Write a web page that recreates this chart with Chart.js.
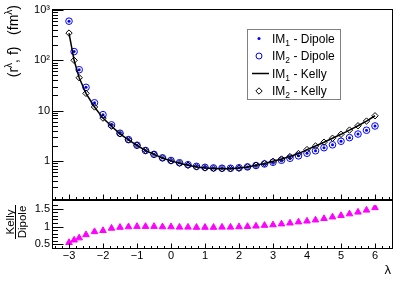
<!DOCTYPE html>
<html>
<head>
<meta charset="utf-8">
<script src="https://cdn.jsdelivr.net/npm/chart.js@4/dist/chart.umd.min.js"></script>
<style>
  body { margin: 0; background: #fff; width: 413px; height: 286px; overflow: hidden; position: relative; }
  canvas { position: absolute; left: 0; }
  #top { top: 0; }
  #bottom { top: 200px; }
</style>
</head>
<body>
<canvas id="top" width="413" height="200"></canvas>
<canvas id="bottom" width="413" height="86"></canvas>
<script>
// data
const lambda = [-3, -2.85, -2.7, -2.5, -2.25, -2, -1.75, -1.5, -1.25, -1, -0.75, -0.5, -0.25, 0, 0.25, 0.5, 0.75, 1, 1.25, 1.5, 1.75, 2, 2.25, 2.5, 2.75, 3, 3.25, 3.5, 3.75, 4, 4.25, 4.5, 4.75, 5, 5.25, 5.5, 5.75, 6];
// IM1 and IM2 dipole points sit on top of each other
const dipole = [600, 149, 65, 29, 14.3, 8.3, 5.2, 3.55, 2.65, 2.05, 1.61, 1.35, 1.15, 1.02, 0.92, 0.84, 0.78, 0.745, 0.725, 0.715, 0.715, 0.73, 0.76, 0.81, 0.87, 0.94, 1.03, 1.13, 1.26, 1.42, 1.59, 1.83, 2.09, 2.46, 2.9, 3.42, 4.07, 4.95];
// same for the Kelly line and diamonds
const kelly = [348, 100, 45, 22, 11.8, 7.1, 4.9, 3.45, 2.62, 2.04, 1.61, 1.35, 1.14, 1.0, 0.9, 0.82, 0.76, 0.725, 0.71, 0.70, 0.70, 0.72, 0.76, 0.82, 0.89, 0.98, 1.09, 1.22, 1.40, 1.68, 1.98, 2.35, 2.82, 3.38, 4.1, 5.0, 6.2, 7.9];
const ratio = [0.55, 0.62, 0.68, 0.77, 0.855, 0.885, 0.95, 0.975, 0.99, 1.0, 1.0, 1.0, 0.99, 0.99, 0.98, 0.98, 0.975, 0.975, 0.975, 0.98, 0.98, 0.99, 1.0, 1.01, 1.03, 1.045, 1.07, 1.095, 1.125, 1.15, 1.18, 1.22, 1.265, 1.305, 1.35, 1.40, 1.455, 1.525];

const xTicks = [-3, -2, -1, 0, 1, 2, 3, 4, 5, 6];
const yTicksTop = [1, 10, 100, 1000];
const yLabelsTop = ['1', '10', '10\u00b2', '10\u00b3'];
const yTicksBottom = [0.5, 1, 1.5];

const FONT = '"Liberation Sans", Arial, Helvetica, sans-serif';
Chart.defaults.font.family = FONT;
Chart.defaults.color = '#000';

const pts = ys => lambda.map((x, i) => ({x: x, y: ys[i]}));

function richText(ctx, parts, x, y, angle, align) {
  ctx.save();
  ctx.translate(x, y);
  ctx.rotate(angle);
  ctx.textBaseline = 'alphabetic';
  ctx.fillStyle = '#000';
  let total = 0;
  const w = parts.map(p => { ctx.font = p[1] + 'px ' + FONT; const m = ctx.measureText(p[0]).width; total += m; return m; });
  let u = align === 'right' ? -total : align === 'center' ? -total / 2 : 0;
  parts.forEach((p, i) => {
    ctx.font = p[1] + 'px ' + FONT;
    ctx.fillText(p[0], u, p[2]);
    u += w[i];
  });
  ctx.restore();
}

// ROOT-like frame with ticks pointing inwards
function drawFrame(chart, opt) {
  const {ctx, chartArea: a, scales} = chart;
  const L = Math.round(a.left) + 0.5, R = Math.round(a.right) + 0.5;
  const T = opt.topY, B = opt.bottomY;
  ctx.save();
  ctx.strokeStyle = '#000';
  ctx.lineWidth = 1;
  ctx.strokeRect(L, T, R - L, B - T);
  ctx.beginPath();
  for (let i = -17; i <= 32; i++) {
    const px = Math.round(scales.x.getPixelForValue(i / 5)) + 0.5;
    const len = i % 5 === 0 ? 5 : 2.5;
    ctx.moveTo(px, B); ctx.lineTo(px, B - len);
  }
  opt.yTicks.forEach(t => {
    const py = Math.round(scales.y.getPixelForValue(t.v)) + 0.5;
    if (py < T || py > B) return;
    ctx.moveTo(L, py); ctx.lineTo(L + (t.major ? 11 : 5.5), py);
  });
  ctx.stroke();
  ctx.restore();
}

function logTicks() {
  const out = [];
  [0.1, 1, 10, 100, 1000].forEach(d => {
    for (let k = 1; k <= 9; k++) {
      const v = k * d;
      if (v >= 0.21 && v <= 1000) out.push({v: v, major: k === 1});
    }
  });
  return out;
}
function linTicks() {
  const out = [];
  for (let i = 4; i <= 16; i++) out.push({v: i / 10, major: i % 5 === 0});
  return out;
}

const topDecor = {
  id: 'topDecor',
  afterDatasetsDraw(chart) {
    const ctx = chart.ctx;
    drawFrame(chart, {topY: 9.5, bottomY: 199.5, yTicks: logTicks()});
    // legend
    ctx.save();
    ctx.fillStyle = '#fff';
    ctx.fillRect(247.5, 29.5, 93, 70);
    ctx.strokeStyle = '#808080';
    ctx.lineWidth = 1;
    ctx.strokeRect(247.5, 29.5, 93, 70);
    const mx = 259, rows = [38.5, 56, 73.5, 91];
    ctx.fillStyle = '#0000ff'; ctx.strokeStyle = '#0000ff';
    Chart.helpers.drawPoint(ctx, {pointStyle: 'circle', radius: 1.5, borderWidth: 0, rotation: 0}, mx, rows[0]);
    ctx.fillStyle = 'rgba(0,0,0,0)'; ctx.lineWidth = 1;
    Chart.helpers.drawPoint(ctx, {pointStyle: 'circle', radius: 3, borderWidth: 1, rotation: 0}, mx, rows[1]);
    ctx.strokeStyle = '#000'; ctx.lineWidth = 1.5;
    ctx.beginPath(); ctx.moveTo(252, rows[2]); ctx.lineTo(269, rows[2]); ctx.stroke();
    ctx.lineWidth = 1;
    Chart.helpers.drawPoint(ctx, {pointStyle: 'rectRot', radius: 3.2, borderWidth: 1, rotation: 0}, mx, rows[3]);
    ctx.restore();
    const names = [['1', ' - Dipole'], ['2', ' - Dipole'], ['1', ' - Kelly'], ['2', ' - Kelly']];
    names.forEach((n, i) => richText(ctx, [['IM', 12, 0], [n[0], 8.5, 3], [n[1], 12, 0]], 272, rows[i] + 4.3, 0, 'left'));
    // y axis title
    richText(ctx, [['(r', 14, 0], ['\u03bb', 10, -6], [', f)   (fm', 14, 0], ['\u03bb', 10, -6], [')', 14, 0]], 18, 5, -Math.PI / 2, 'right');
  }
};

const bottomDecor = {
  id: 'bottomDecor',
  afterDatasetsDraw(chart) {
    const ctx = chart.ctx;
    drawFrame(chart, {topY: 0.5, bottomY: 48.5, yTicks: linTicks()});
    richText(ctx, [['Kelly', 11.5, 0]], 14, 22, -Math.PI / 2, 'center');
    richText(ctx, [['Dipole', 11.5, 0]], 25.5, 22, -Math.PI / 2, 'center');
    ctx.save();
    ctx.strokeStyle = '#000'; ctx.lineWidth = 1;
    ctx.beginPath(); ctx.moveTo(15.5, 5); ctx.lineTo(15.5, 39); ctx.stroke();
    ctx.restore();
    richText(ctx, [['\u03bb', 13, 0]], 391, 73.5, 0, 'right');
  }
};

const noGrid = {display: false, drawTicks: false};

new Chart(document.getElementById('top'), {
  type: 'scatter',
  data: {
    datasets: [
      {label: 'IM2 - Kelly', data: pts(kelly), pointStyle: 'rectRot', pointRadius: 3.2, borderColor: '#000', backgroundColor: 'rgba(0,0,0,0)', borderWidth: 1, order: 0},
      {label: 'IM1 - Kelly', data: pts(kelly), showLine: true, borderColor: '#000', borderWidth: 1.5, pointRadius: 0, order: 1},
      {label: 'IM1 - Dipole', data: pts(dipole), pointStyle: 'circle', pointRadius: 1.5, backgroundColor: '#0000ff', borderWidth: 0, order: 2},
      {label: 'IM2 - Dipole', data: pts(dipole), pointStyle: 'circle', pointRadius: 3.3, borderColor: '#0000ff', backgroundColor: 'rgba(0,0,0,0)', borderWidth: 1, order: 3}
    ]
  },
  options: {
    responsive: false, animation: false, events: [],
    layout: {padding: {left: 0, right: 21, top: 10, bottom: 1}},
    plugins: {legend: {display: false}, tooltip: {enabled: false}},
    scales: {
      x: {type: 'linear', min: -3.5, max: 6.5, display: false},
      y: {
        type: 'logarithmic', min: 0.21, max: 1000,
        afterBuildTicks: s => { s.ticks = yTicksTop.map(v => ({value: v})); },
        afterFit: s => { s.width = 52; s.paddingTop = 0; s.paddingBottom = 0; },
        ticks: {callback: (v, i) => yLabelsTop[i], padding: 2, autoSkip: false, font: {size: 11}},
        grid: noGrid, border: {display: false}
      }
    }
  },
  plugins: [topDecor]
});

new Chart(document.getElementById('bottom'), {
  type: 'scatter',
  data: {
    datasets: [
      {label: 'Kelly/Dipole', data: pts(ratio), pointStyle: 'triangle', pointRadius: 3.8, backgroundColor: '#ff00ff', borderColor: '#ff00ff', borderWidth: 1}
    ]
  },
  options: {
    responsive: false, animation: false, events: [],
    layout: {padding: {left: 0, right: 21, top: 0, bottom: 0}},
    plugins: {legend: {display: false}, tooltip: {enabled: false}},
    scales: {
      x: {
        type: 'linear', min: -3.5, max: 6.5,
        afterBuildTicks: s => { s.ticks = xTicks.map(v => ({value: v})); },
        afterFit: s => { s.height = 38; s.paddingLeft = 0; s.paddingRight = 0; },
        ticks: {callback: v => String(v).replace('-', '\u2212'), padding: 1, autoSkip: false, maxRotation: 0, font: {size: 11}},
        grid: noGrid, border: {display: false}
      },
      y: {
        type: 'linear', min: 0.4, max: 1.6,
        afterBuildTicks: s => { s.ticks = yTicksBottom.map(v => ({value: v})); },
        afterFit: s => { s.width = 52; s.paddingTop = 0; s.paddingBottom = 0; },
        ticks: {callback: v => String(v), padding: 2, autoSkip: false, font: {size: 11}},
        grid: noGrid, border: {display: false}
      }
    }
  },
  plugins: [bottomDecor]
});
</script>
</body>
</html>
